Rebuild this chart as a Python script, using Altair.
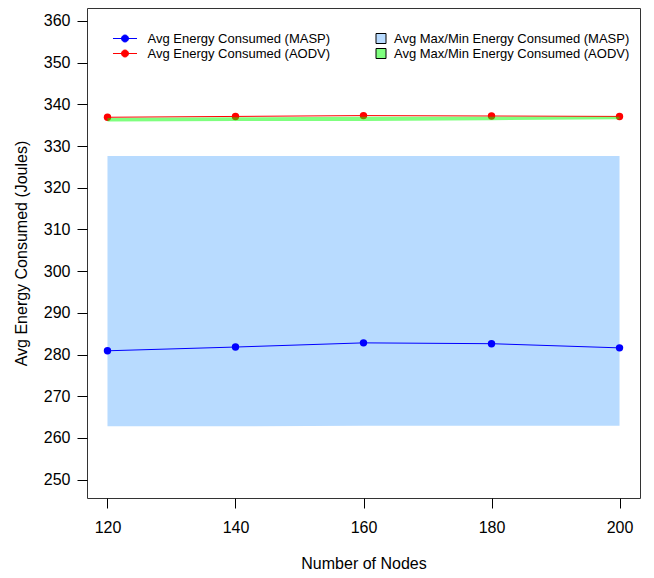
import altair as alt
import pandas as pd

nodes = [120, 140, 160, 180, 200]
masp_avg = [280.9, 281.8, 282.8, 282.6, 281.6]
aodv_avg = [336.9, 337.1, 337.3, 337.2, 337.1]
masp_min = [262.8, 262.8, 262.9, 262.9, 262.9]
masp_max = [327.6, 327.6, 327.6, 327.6, 327.6]
aodv_min = [335.9, 336.0, 336.0, 336.2, 336.4]
aodv_max = [336.7, 336.9, 337.0, 337.0, 337.0]

line_names = ["Avg Energy Consumed (MASP)", "Avg Energy Consumed (AODV)"]
band_names = ["Avg Max/Min Energy Consumed (MASP)", "Avg Max/Min Energy Consumed (AODV)"]
line_colors = ["#0000FF", "#FF0000"]
band_colors = ["#B8DBFF", "rgba(0,255,0,0.5)"]
y_ticks = list(range(250, 361, 10))

FONT = "Liberation Sans"

lines_df = pd.DataFrame({
    "nodes": nodes * 2,
    "value": masp_avg + aodv_avg,
    "series": [line_names[0]] * 5 + [line_names[1]] * 5,
})
masp_band_df = pd.DataFrame({"nodes": nodes, "lo": masp_min, "hi": masp_max, "band": band_names[0]})
aodv_band_df = pd.DataFrame({"nodes": nodes, "lo": aodv_min, "hi": aodv_max, "band": band_names[1]})

x_enc = alt.X(
    "nodes:Q",
    scale=alt.Scale(domain=[116.8, 203.2], nice=False, zero=False),
    axis=alt.Axis(values=nodes, title="Number of Nodes", grid=False, domain=False,
                  tickSize=10, tickColor="black", labelPadding=11, labelFontSize=16,
                  labelColor="black", labelFont=FONT, titleFont=FONT, titleFontSize=16,
                  titleFontWeight="normal", titleColor="black", titlePadding=20,
                  labelFlush=False),
)
y_scale = alt.Scale(domain=[245.6, 363.1], nice=False, zero=False)
y_axis = alt.Axis(values=y_ticks, title="Avg Energy Consumed (Joules)", grid=False, domain=False,
                  tickSize=10, tickColor="black", labelPadding=7, labelFontSize=16,
                  labelColor="black", labelFont=FONT, titleFont=FONT, titleFontSize=16,
                  titleFontWeight="normal", titleColor="black", titlePadding=14,
                  labelFlush=False)

fill_scale = alt.Scale(domain=band_names, range=band_colors)
band_legend = alt.Legend(
    title=None, orient="none", legendX=287.5, legendY=24, symbolType="square",
    symbolSize=100, symbolStrokeColor="black", symbolStrokeWidth=1, symbolOpacity=1,
    labelFont=FONT, labelFontSize=13, labelColor="black", labelOffset=6.5,
    labelLimit=400, rowPadding=0, padding=0,
)

blue_band = alt.Chart(masp_band_df).mark_area(opacity=1).encode(
    x=x_enc,
    y=alt.Y("lo:Q", scale=y_scale, axis=y_axis),
    y2="hi:Q",
    fill=alt.Fill("band:N", scale=fill_scale, legend=band_legend),
)
green_band = alt.Chart(aodv_band_df).mark_area(opacity=1).encode(
    x=x_enc,
    y=alt.Y("lo:Q", scale=y_scale, axis=y_axis),
    y2="hi:Q",
    fill=alt.Fill("band:N", scale=fill_scale, legend=band_legend),
)

line_symbol = "M-3.43,0H3.43M-1,0A1,1,0,1,0,1,0A1,1,0,1,0,-1,0Z"
color_scale = alt.Scale(domain=line_names, range=line_colors)
fill_expr = "datum.value == '%s' ? '%s' : '%s'" % (line_names[0], line_colors[0], line_colors[1])
line_legend = alt.Legend(
    title=None, orient="none", legendX=31.5, legendY=24, symbolType=line_symbol,
    symbolSize=49, symbolStrokeWidth=1, labelFont=FONT, labelFontSize=13,
    labelColor="black", labelOffset=16, labelLimit=400, rowPadding=1, padding=0,
    symbolFillColor=alt.ExprRef(fill_expr), symbolOpacity=1,
)

lines = alt.Chart(lines_df).mark_line(strokeWidth=1, point=alt.OverlayMarkDef(filled=True, size=55, opacity=1)).encode(
    x=x_enc,
    y=alt.Y("value:Q", scale=y_scale, axis=y_axis),
    color=alt.Color("series:N", scale=color_scale, legend=line_legend),
)

chart = alt.layer(blue_band, lines, green_band).properties(
    width=553, height=490,
    padding={"left": 79, "top": 0, "right": 6, "bottom": 72},
    autosize=alt.AutoSizeParams(type="none"),
    background="white",
).configure_view(stroke="#333333", strokeWidth=1)

chart.save("out.html", embed_options={"renderer": "svg", "actions": False})
